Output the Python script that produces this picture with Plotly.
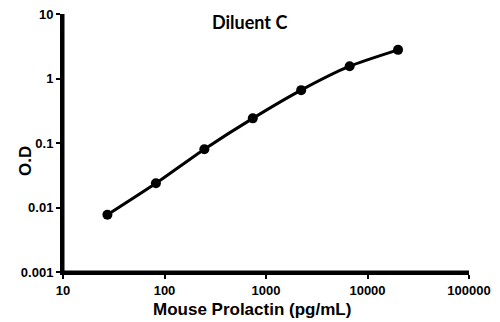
import plotly.graph_objects as go

concentration = [27.4, 82.3, 246.9, 740.7, 2222.2, 6666.7, 20000]
od = [0.0077, 0.0237, 0.080, 0.241, 0.66, 1.55, 2.78]
x_ticks = [10, 100, 1000, 10000, 100000]
x_tick_labels = ["10", "100", "1000", "10000", "100000"]
y_ticks = [0.001, 0.01, 0.1, 1, 10]
y_tick_labels = ["0.001", "0.01", "0.1", "1", "10"]

fig = go.Figure()
fig.add_trace(go.Scatter(
    x=concentration, y=od, mode="lines+markers",
    line=dict(color="black", width=3, shape="spline", smoothing=0.6),
    marker=dict(color="black", size=10),
    showlegend=False,
))

tickfont = dict(family="Liberation Sans, Arial", size=13, color="black")
titlefont = dict(family="Liberation Sans, Arial", size=17, color="black")
fig.update_layout(
    width=500, height=322,
    margin=dict(l=63, r=31, t=14, b=50),
    paper_bgcolor="white", plot_bgcolor="white",
    annotations=[
        dict(text="<b>Diluent C</b>", x=0.459, y=0.969, xref="paper", yref="paper",
             xanchor="center", yanchor="middle", showarrow=False,
             font=dict(family="Lato, Liberation Sans", size=18, color="black")),
        dict(text="<b>Mouse Prolactin (pg/mL)</b>", x=0.466, y=-0.147, xref="paper", yref="paper",
             xanchor="center", yanchor="middle", showarrow=False, font=titlefont),
        dict(text="<b>O.D</b>", x=-0.0936, y=0.43, xref="paper", yref="paper", textangle=-90,
             xanchor="center", yanchor="middle", showarrow=False, font=titlefont),
    ],
    shapes=[
        dict(type="line", xref="paper", yref="paper", x0=0, x1=1, y0=0, y1=0,
             line=dict(color="black", width=3), layer="above"),
        dict(type="line", xref="paper", yref="paper", x0=0, x1=0, y0=0, y1=1,
             line=dict(color="black", width=3), layer="above"),
    ],
)
fig.update_xaxes(
    type="log", range=[1, 5], tickvals=x_ticks, ticktext=["<b>%s</b>" % t for t in x_tick_labels],
    showline=True, linecolor="black", linewidth=3, ticks="outside", ticklen=4, tickwidth=2,
    tickcolor="black", showgrid=False, zeroline=False, tickfont=tickfont, automargin=False,
)
fig.update_yaxes(
    type="log", range=[-3, 1], tickvals=y_ticks, ticktext=["<b>%s</b>" % t for t in y_tick_labels],
    showline=True, linecolor="black", linewidth=3, ticks="outside", ticklen=4, tickwidth=2,
    tickcolor="black", showgrid=False, zeroline=False, tickfont=tickfont, automargin=False,
)
fig.write_html("out.html")
